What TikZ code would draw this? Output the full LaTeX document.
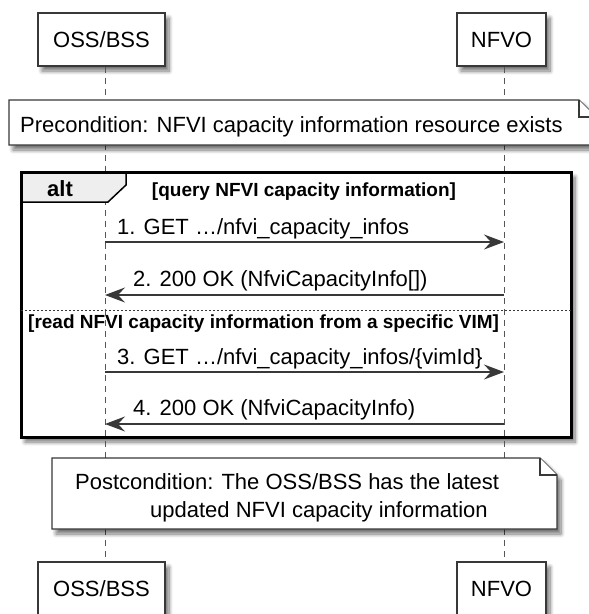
\documentclass[tikz,border=0pt]{standalone}
\usepackage{fontspec}
\setmainfont{Liberation Sans}
\usetikzlibrary{arrows.meta,shadows.blur}
\definecolor{lineclr}{HTML}{383838}
\definecolor{tabclr}{HTML}{EEEEEE}
\newcommand{\txtfont}{\fontsize{22}{28}\selectfont}
\newcommand{\hdrfont}{\fontsize{19}{23}\selectfont\bfseries}

\begin{document}
\begin{tikzpicture}[x=1pt, y=-1pt]
  \tikzstyle{shade} = [blur shadow={shadow xshift=4pt, shadow yshift=-5pt, shadow blur radius=4pt, shadow blur steps=8, shadow opacity=55}]
  \tikzstyle{actor} = [draw=lineclr, line width=1.6pt, fill=white, minimum height=53pt, inner sep=0pt, font=\txtfont, shade]
  \tikzstyle{life} = [draw=lineclr!85, line width=0.9pt, dash pattern=on 6pt off 5pt]
  \tikzstyle{msg} = [draw=lineclr, line width=1.2pt, -{Stealth[length=20pt, width=15pt, inset=7pt]}]
  \tikzstyle{lbl} = [font=\txtfont, inner sep=0pt]
  \tikzstyle{note} = [draw=lineclr, line width=1.3pt, fill=white]
  \tikzstyle{frame} = [draw=black, line width=3pt]
  \tikzstyle{tab} = [draw=black, line width=1.5pt, fill=tabclr]
  \tikzstyle{hdr} = [font=\hdrfont, inner sep=0pt]
  \tikzstyle{sep} = [draw=lineclr, line width=0.9pt, dash pattern=on 2pt off 2pt]

  \useasboundingbox (0,0) rectangle (589,614);

  % frame background
  \path[fill=white, shade] (21,172) rectangle (571,437);

  % participants
  \node[actor, minimum width=127pt] (ossT) at (101.5,39.5) {OSS/BSS};
  \node[actor, minimum width=89pt] (nfvoT) at (501.5,39.5) {NFVO};
  \node[actor, minimum width=127pt] (ossB) at (101.5,588.5) {OSS/BSS};
  \node[actor, minimum width=89pt] (nfvoB) at (501.5,588.5) {NFVO};

  % lifelines
  \draw[life] ([xshift=3.5pt]ossT.south) -- ([xshift=3.5pt]ossB.north);
  \draw[life] ([xshift=2.5pt]nfvoT.south) -- ([xshift=2.5pt]nfvoB.north);

  % notes
  \path[note, shade] (9,100) -- (579,100) -- (596,117) -- (596,145) -- (9,145) -- cycle;
  \draw[note] (579,100) -- (579,117) -- (596,117);
  \node[lbl, anchor=base west] (pre) at (20,132) {Precondition: NFVI capacity information resource exists};

  \path[note, shade] (52,458) -- (540,458) -- (557,475) -- (557,529) -- (52,529) -- cycle;
  \draw[note] (540,458) -- (540,475) -- (557,475);
  \node[lbl, anchor=west, align=left] (post) at (75,498) {Postcondition: The OSS/BSS has the latest\\\hspace*{75pt}updated NFVI capacity information};

  % alt frame
  \filldraw[tab] (21,172) -- (126,172) -- (126,185) -- (108,202) -- (21,202) -- cycle;
  \draw[frame] (21,172) rectangle (571,437);
  \node[hdr, font=\fontsize{22}{26}\selectfont\bfseries, anchor=base] (alt) at (60,196) {alt};
  \node[hdr, anchor=base] (g1) at (304,196) {[query NFVI capacity information]};
  \draw[sep] (21,310) -- (571,310);
  \node[hdr, anchor=base west] (g2) at (28,328) {[read NFVI capacity information from a specific VIM]};

  % messages
  \coordinate (o1) at (105,242); \coordinate (n1) at (504,242);
  \coordinate (o2) at (105,295); \coordinate (n2) at (504,295);
  \coordinate (o3) at (105,372); \coordinate (n3) at (504,372);
  \coordinate (o4) at (105,424); \coordinate (n4) at (504,424);

  \draw[msg] (o1) -- (n1);
  \node[lbl, anchor=base west] (m1) at (117,234) {1. GET …/nfvi\_capacity\_infos};
  \draw[msg] (n2) -- (o2);
  \node[lbl, anchor=base west] (m2) at (133,286) {2. 200 OK (NfviCapacityInfo[])};
  \draw[msg] (o3) -- (n3);
  \node[lbl, anchor=base west] (m3) at (117,364) {3. GET …/nfvi\_capacity\_infos/\{vimId\}};
  \draw[msg] (n4) -- (o4);
  \node[lbl, anchor=base west] (m4) at (133,415) {4. 200 OK (NfviCapacityInfo)};
\end{tikzpicture}
\end{document}
